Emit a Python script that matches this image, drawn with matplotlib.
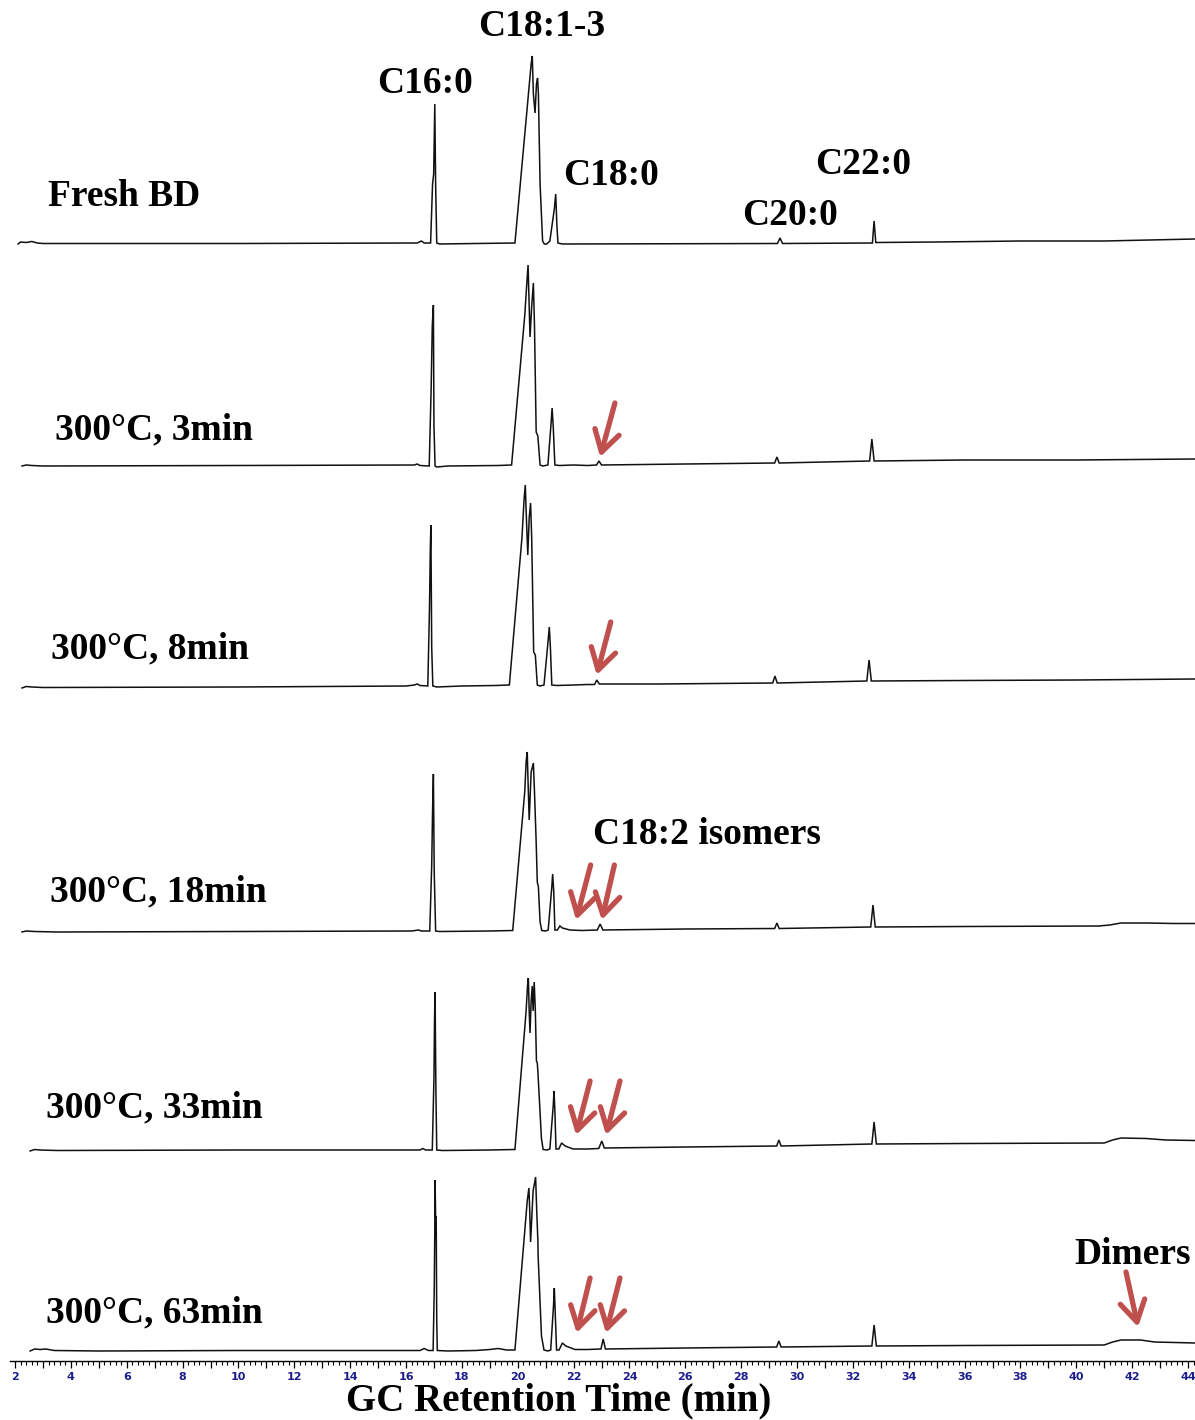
import matplotlib
matplotlib.use('Agg')
import matplotlib.pyplot as plt
from matplotlib.ticker import MultipleLocator, FuncFormatter

# chromatogram traces: retention time (min), signal above baseline
fresh_t = [2.11, 2.2, 2.4, 2.6, 2.8, 3.0, 10, 16.4, 16.55, 16.65, 16.88, 16.95, 16.99, 17.03, 17.06,
           17.10, 17.2, 18.5, 19.90, 20.48, 20.52, 20.56, 20.62, 20.67, 20.71, 20.74, 20.80, 20.89,
           20.95, 21.04, 21.15, 21.31, 21.36, 21.40, 21.44, 21.6, 29.3, 29.39, 29.48, 32.70, 32.76,
           32.82, 35, 38, 41, 44.25]
fresh_h = [0, 2, 1.5, 2.5, 1, 0.5, 0.5, 1, 3, 1, 1, 60, 70, 140, 60,
           1, 0, 0.5, 1, 180, 188, 150, 131, 160, 166, 150, 60, 3,
           0, 0, 3, 35, 50, 20, 1, 0, 0.5, 6, 0.5, 1, 23,
           1.5, 2, 3, 3, 5]

min3_t = [2.25, 2.4, 2.6, 3, 10, 16.3, 16.4, 16.5, 16.83, 16.90, 16.94, 16.98, 17.00, 17.04, 17.1,
          17.5, 19.3, 19.78, 20.25, 20.33, 20.37, 20.40, 20.44, 20.50, 20.56, 20.60, 20.66, 20.72,
          20.80, 20.90, 21.08, 21.20, 21.23, 21.27, 21.33, 21.5, 22.0, 22.5, 22.82, 22.91, 23.0,
          26, 29.20, 29.28, 29.36, 32.60, 32.68, 32.76, 36, 40, 44.25]
min3_h = [0, 1, 0.5, 0, 0.5, 1, 2, 0.5, 0, 78, 140, 161, 40, 0, -1,
          0, 0.5, 1, 150, 185, 201, 170, 129, 160, 183, 140, 34, 30,
          1, 0, 1, 45, 58, 40, 1, 0.5, 1, 0.5, 1, 5, 1,
          2, 3, 9, 3, 5, 27, 5, 6, 6, 7]

min8_t = [2.25, 2.4, 2.6, 3, 10, 16.0, 16.3, 16.4, 16.5, 16.78, 16.84, 16.87, 16.89, 16.92, 16.96,
          17.1, 18, 19.2, 19.70, 20.15, 20.23, 20.27, 20.31, 20.36, 20.41, 20.46, 20.50, 20.57,
          20.63, 20.70, 20.80, 20.94, 21.08, 21.13, 21.17, 21.22, 21.4, 22.0, 22.5, 22.75, 22.83,
          22.92, 25, 29.13, 29.21, 29.29, 32.50, 32.58, 32.66, 36, 40, 44.25]
min8_h = [0, 1.5, 1, 0.5, 1, 2, 3, 4, 2.5, 2, 80, 140, 163, 40, 2,
          1, 2, 2.5, 3, 150, 190, 203, 170, 133, 170, 185, 150, 36,
          33, 3, 2, 3, 45, 61, 40, 3, 2.5, 3, 3.5, 3.5, 8,
          4, 4, 5, 12, 5, 7, 28, 7, 7.5, 8, 9]

min18_t = [2.25, 2.4, 2.7, 3.5, 10, 16.2, 16.45, 16.55, 16.85, 16.92, 16.95, 16.98, 17.01, 17.06,
           17.2, 19.0, 19.82, 20.25, 20.30, 20.34, 20.37, 20.41, 20.48, 20.56, 20.60, 20.66, 20.70,
           20.74, 20.80, 20.86, 21.00, 21.09, 21.22, 21.25, 21.29, 21.33, 21.42, 21.51, 21.60, 21.87,
           22.3, 22.85, 22.95, 23.05, 26, 29.20, 29.28, 29.36, 32.64, 32.72, 32.80, 36, 40.8, 41.2,
           41.6, 42.5, 43.5, 44.25]
min18_h = [0, 1, 0.5, 0, 0.5, 1, 2, 1, 1, 67, 120, 158, 60, 1,
           0.5, 1, 1.5, 140, 170, 180, 150, 112, 160, 169, 140, 90, 50,
           45, 10, 1.5, 1, 2, 45, 58, 40, 2, 2, 6, 4, 2,
           1.5, 2, 8, 2, 3, 3.5, 9, 3.5, 5, 27, 5, 5.5, 6, 7,
           9, 9, 8.5, 8.5]

min33_t = [2.54, 2.7, 2.9, 3.5, 10, 16.5, 16.6, 16.7, 16.94, 17.00, 17.02, 17.04, 17.07, 17.10,
           17.3, 19.0, 19.90, 20.30, 20.35, 20.38, 20.41, 20.44, 20.48, 20.52, 20.55, 20.59, 20.63,
           20.67, 20.70, 20.72, 20.85, 20.91, 21.05, 21.15, 21.27, 21.30, 21.33, 21.37, 21.47, 21.57,
           21.70, 21.98, 22.5, 22.9, 23.01, 23.10, 26, 29.27, 29.35, 29.43, 32.68, 32.76, 32.84, 36,
           41.0, 41.3, 41.6, 42.5, 43.2, 44.25]
min33_h = [0, 1.5, 1, 0.5, 1, 1, 2.5, 1, 1, 73, 130, 159, 60, 1,
           0.5, 1, 1.5, 140, 165, 173, 140, 118, 150, 165, 140, 169, 140,
           90, 88, 80, 12, 1.5, 1, 2, 45, 60, 40, 2, 2, 8,
           5, 2, 2, 2.5, 10, 3, 4, 5, 11, 5, 7, 29, 7, 7.5,
           8, 11, 13, 12.5, 11, 10.5]

min63_t = [2.54, 2.7, 2.9, 3.1, 3.4, 5, 10, 16.5, 16.65, 16.8, 16.97, 17.01, 17.03, 17.04, 17.06,
           17.08, 17.10, 17.12, 17.5, 18.5, 19.0, 19.3, 19.6, 19.90, 20.34, 20.40, 20.43, 20.46,
           20.55, 20.64, 20.68, 20.72, 20.73, 20.85, 20.94, 21.08, 21.18, 21.28, 21.31, 21.34, 21.39,
           21.48, 21.60, 21.72, 22.05, 22.5, 22.98, 23.06, 23.14, 26, 29.27, 29.35, 29.43, 32.68,
           32.76, 32.84, 36, 41.0, 41.3, 41.6, 42.3, 42.8, 44.25]
min63_h = [0, 2, 1.5, 2, 0.5, 0, 0.5, 0.5, 2.5, 0.5, 0.5, 61, 120, 171, 134,
           134, 30, 0.5, 0, 0.5, 1.5, 2.5, 1, 1, 150, 163, 140, 109,
           160, 174, 140, 111, 95, 15, 1, 0, 1, 45, 63, 40, 1,
           1, 8, 5, 1.5, 1.5, 2, 12, 2, 3, 4, 10, 4, 5,
           26, 5, 5.5, 6, 9, 11, 11, 9, 8]

traces_t = [fresh_t, min3_t, min8_t, min18_t, min33_t, min63_t]
traces_h = [fresh_h, min3_h, min8_h, min18_h, min33_h, min63_h]
baselines = [1117, 895, 673, 429, 210, 10]

sample_names = ['Fresh BD', '300°C, 3min', '300°C, 8min', '300°C, 18min', '300°C, 33min', '300°C, 63min']
sample_x = [5.92, 6.96, 6.85, 7.12, 6.99, 6.99]
sample_y = [1155, 922, 703, 460, 244, 39]

peak_names = ['C16:0', 'C18:1-3', 'C18:0', 'C20:0', 'C22:0', 'C18:2 isomers', 'Dimers']
peak_x = [16.68, 20.85, 23.34, 29.75, 32.38, 26.76, 42.01]
peak_y = [1268, 1325, 1176, 1136, 1187, 517, 97]

# arrows: trace index, tip time, tip height, tail time, tail height
arrows = [(1, 22.95, 9, 23.48, 63),
          (2, 22.83, 13, 23.33, 66),
          (3, 22.09, 12, 22.61, 67), (3, 23.01, 12, 23.46, 67),
          (4, 22.09, 16, 22.59, 70), (4, 23.16, 16, 23.66, 70),
          (5, 22.11, 18, 22.59, 73), (5, 23.16, 18, 23.66, 73),
          (5, 42.21, 24, 41.78, 79)]

serif = 'Liberation Serif'
red = '#c0504d'

fig = plt.figure(figsize=(11.95, 14.2), dpi=100)
ax = fig.add_axes([10 / 1195, 59 / 1420, 1185 / 1195, 1361 / 1420])

for t, h, b in zip(traces_t, traces_h, baselines):
    ax.plot(t, [v + b for v in h], color='#111111', lw=1.1, solid_joinstyle='miter')

for name, x, y in zip(sample_names, sample_x, sample_y):
    ax.text(x, y, name, ha='center', va='baseline', fontsize=27, fontweight='bold', family=serif)

for name, x, y in zip(peak_names, peak_x, peak_y):
    ax.text(x, y, name, ha='center', va='baseline', fontsize=27, fontweight='bold', family=serif)

for i, tt, th, st, sh in arrows:
    b = baselines[i]
    ax.annotate('', xy=(tt, th + b), xytext=(st, sh + b),
                arrowprops=dict(arrowstyle='->, head_length=0.75, head_width=0.45', color=red,
                                lw=3.8, shrinkA=0, shrinkB=0, mutation_scale=20))

ax.set_xlim(1.82, 44.25)
ax.set_ylim(0, 1361)
for s in ['left', 'top', 'right']:
    ax.spines[s].set_visible(False)
ax.spines['bottom'].set_linewidth(1.0)
ax.set_yticks([])
ax.xaxis.set_major_locator(MultipleLocator(1))
ax.xaxis.set_minor_locator(MultipleLocator(0.2))
ax.xaxis.set_major_formatter(FuncFormatter(lambda v, p: '%d' % v if int(round(v)) % 2 == 0 else ''))
ax.tick_params(axis='x', which='major', direction='out', length=5, width=0.9, pad=3,
               labelsize=8, labelcolor='#1c1c8c')
ax.tick_params(axis='x', which='minor', direction='out', length=3, width=0.8)
for lab in ax.get_xticklabels():
    lab.set_fontweight('bold')

fig.text(559 / 1195, 1 - 1410 / 1420, 'GC Retention Time (min)', ha='center', va='baseline',
         fontsize=28, fontweight='bold', family=serif)

fig.savefig('out.png', dpi=100)
